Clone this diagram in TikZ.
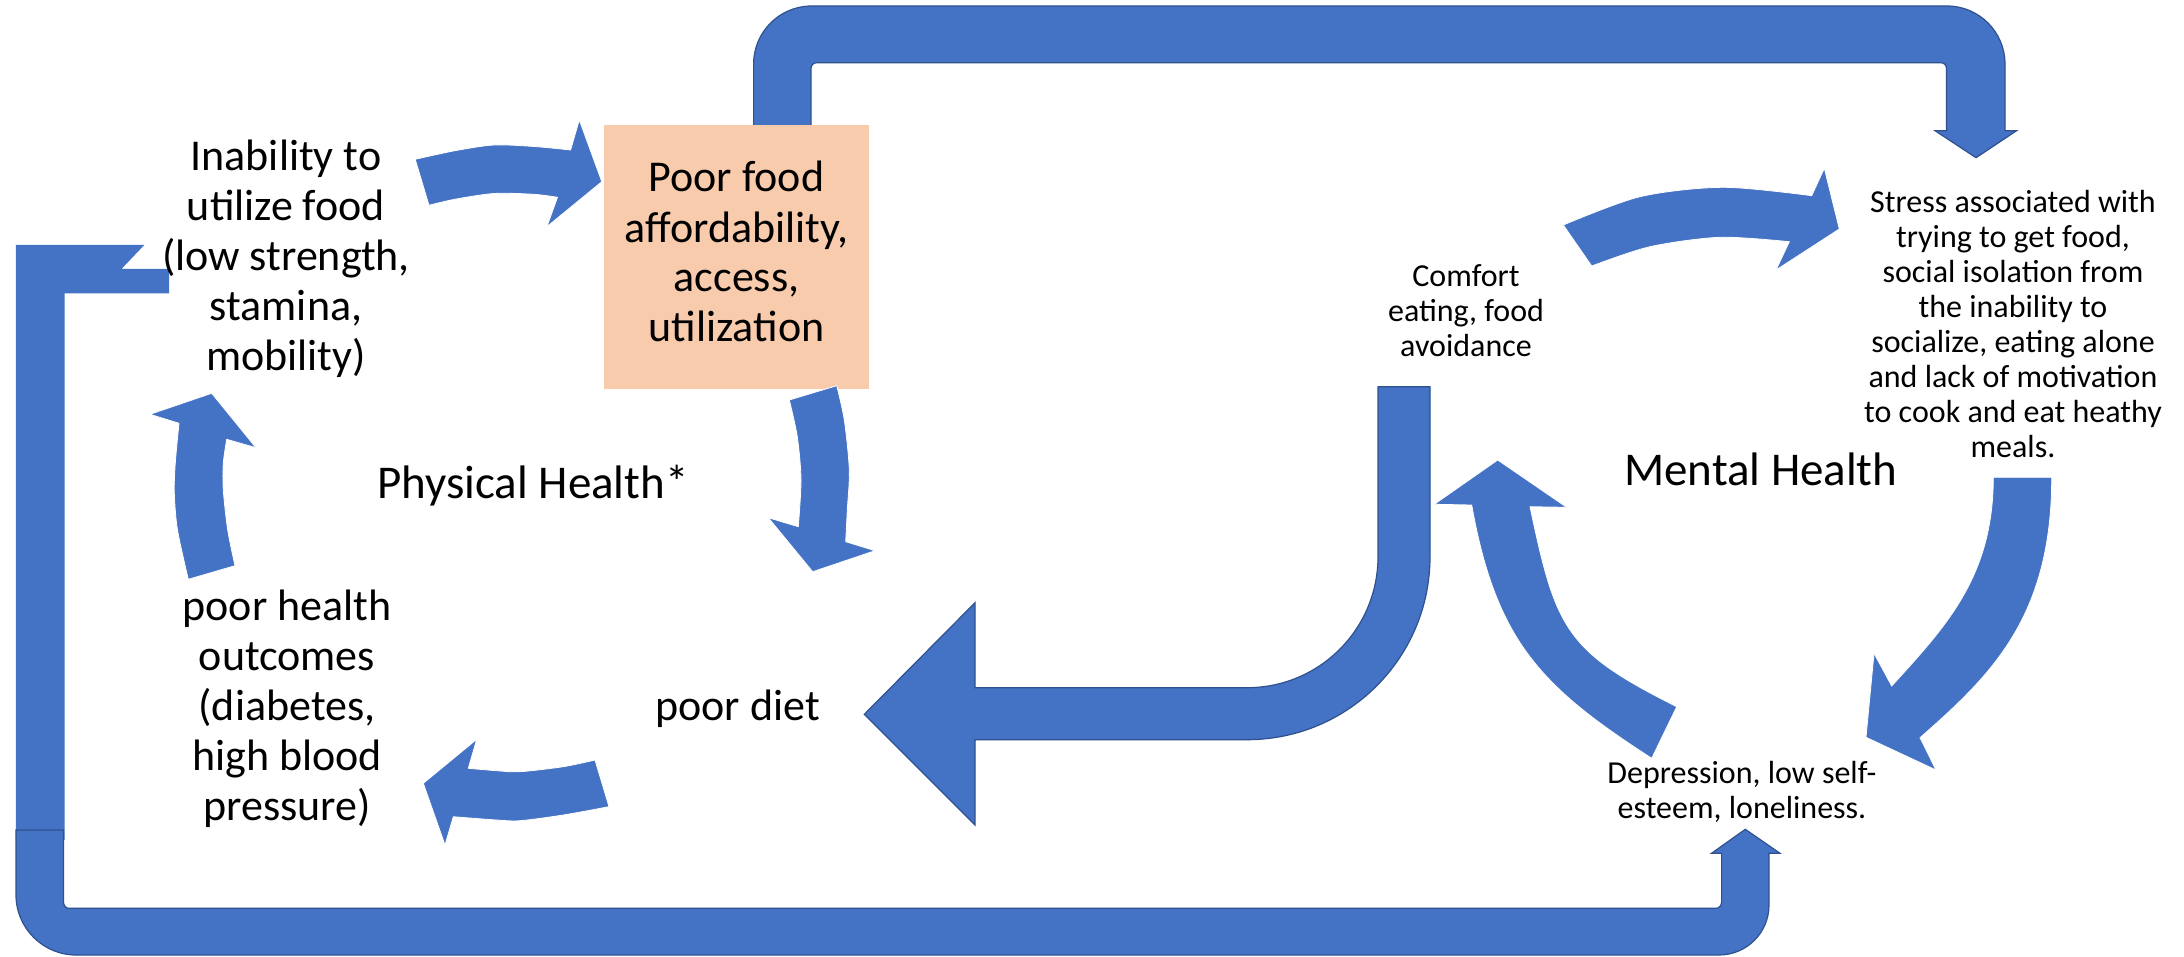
\documentclass[tikz,border=0pt]{standalone}
\usepackage{fontspec}
\setmainfont{Carlito}
\definecolor{arrowblue}{HTML}{4472C4}
\definecolor{arrowedge}{HTML}{2F528F}
\definecolor{peach}{HTML}{F8CBAD}
\newcommand\fntbig{\fontsize{44}{50}\selectfont}
\newcommand\fntlbl{\fontsize{47}{56}\selectfont}
\newcommand\fntsmall{\fontsize{32}{35}\selectfont}
\tikzset{
  blockarrow/.style={fill=arrowblue, draw=arrowedge, line width=1.2pt, line join=miter},
  curvearrow/.style={fill=arrowblue, draw=white, line width=0.8pt, line join=miter},
  plainbar/.style={fill=arrowblue},
  txt/.style={inner sep=0pt, align=center, text=black},
  peachbox/.style={fill=peach, draw=none, inner sep=0pt, align=center, minimum width=265pt, minimum height=264pt}
}
\begin{document}
\begin{tikzpicture}[x=1pt,y=-1pt]
\useasboundingbox (0,0) rectangle (2184,957);
\fill[white] (0,0) rectangle (2184,957);

% top frame arrow (box -> stress)
\path[blockarrow] (753.6,300) -- (753.6,64) .. controls (753.6,32) and (779.6,6) .. (811.6,6)
  -- (1947,6) .. controls (1979,6) and (2005,32) .. (2005,64)
  -- (2005,130.7) -- (2016.5,130.7) -- (1976,157.7) -- (1935,130.7) -- (1946.5,130.7)
  -- (1946.5,68.7) .. controls (1946.5,65) and (1944,62.7) .. (1940.5,62.7)
  -- (817,62.7) .. controls (813.5,62.7) and (811,65) .. (811,68.7) -- (811,300) -- cycle;

% box
\node[peachbox, font=\fntbig] (box) at (736.5,257) {\strut Poor food\\affordability,\\access,\\utilization\strut};

% left bar of bottom frame
\path[plainbar] (15.8,245) -- (144.3,245) -- (121.4,269) -- (169.2,269) -- (169.2,293.3)
  -- (64.5,293.3) -- (64.5,840) -- (15.8,840) -- cycle;

% bottom frame arrow (-> depression)
\path[blockarrow] (16,830) -- (16,895) .. controls (16,928) and (43,955) .. (76,955)
  -- (1719,955) .. controls (1746.6,955) and (1769,932.6) .. (1769,905)
  -- (1769,853.3) -- (1780,853.3) -- (1745.3,829.3) -- (1711.5,853.3) -- (1721.6,853.3)
  -- (1721.6,902) .. controls (1721.6,905.5) and (1719,908.3) .. (1715.6,908.3)
  -- (69,908.3) .. controls (66,908.3) and (63.5,905.5) .. (63.5,902) -- (63.5,830) -- cycle;

% comfort -> poor diet bent arrow
\path[blockarrow] (1377.7,386.7) -- (1430,386.7) -- (1430,556.7)
  .. controls (1430,657.8) and (1348.1,739.7) .. (1247,739.7)
  -- (975,739.7) -- (975,825) -- (864.3,714.3) -- (975,602.7) -- (975,687.7) -- (1247,687.7)
  .. controls (1319.4,687.7) and (1378,629.1) .. (1378,556.7) -- (1378,386.7) -- cycle;

% A: inability -> box
\path[curvearrow] plot[smooth] coordinates {(415.2,159.3) (455,150.7) (494,145) (534,146.5) (570.6,150)}
  -- (579.3,120) -- (601.8,181.7) -- (546.9,226.7)
  -- plot[smooth] coordinates {(557.5,197.3) (533.8,194.3) (494,193.5) (454.7,199.3) (429,205.3)} -- cycle;

% B: box -> poor diet
\path[curvearrow] (789.3,400) -- plot[smooth] coordinates {(836.7,385.7) (844.3,420) (849.3,470) (847.3,510) (845.7,541.7)}
  -- (875,550.7) -- (812.7,571.7) -- (768.3,517.7)
  -- plot[smooth] coordinates {(798.3,526.7) (801,480) (797.3,436.7) (789.3,400)} -- cycle;

% C: poor diet -> poor health
\path[curvearrow] plot[smooth] coordinates {(595,760) (563.3,766.7) (520,771.7) (496.7,770.7) (468.3,768.3)}
  -- (476.7,739.3) -- (423.3,783.3) -- (445,845)
  -- plot[smooth] coordinates {(453.3,816.7) (496.7,820) (520,820.7) (563.3,815) (609,806.7)} -- cycle;

% D: poor health -> inability
\path[curvearrow] (188.3,579.3) -- plot[smooth] coordinates {(235,565.7) (227.7,530) (223.3,490) (223.3,463.3) (226.7,439.3)}
  -- (256,447.7) -- (211.7,393.3) -- (150,414.3)
  -- plot[smooth] coordinates {(179,423.3) (175.3,463) (174.3,493) (177.5,530) (188.3,579.3)} -- cycle;

% E: comfort -> stress
\path[curvearrow] plot[smooth] coordinates {(1563.3,225) (1640,196.7) (1723.3,187.3) (1811.7,195.7)}
  -- (1824.3,168.3) -- (1839.3,229) -- (1776,270)
  -- plot[smooth] coordinates {(1789.3,241.7) (1720,237.3) (1650,246.7) (1591.7,266)} -- cycle;

% F: stress -> depression
\path[curvearrow] (1993.3,477.3) -- (2051.7,477.3)
  .. controls (2051.7,617.3) and (1991.3,675) .. (1920,737.7)
  -- (1936,770) -- (1866,737.3) -- (1874,653.3) -- (1891.7,686)
  .. controls (1945.3,626.8) and (1993.3,577.3) .. (1993.3,477.3) -- cycle;

% G: depression -> comfort
\path[curvearrow] (1651.7,758.3) .. controls (1542.5,687.6) and (1496.3,642.8) .. (1471.7,505)
  -- (1434.3,504.3) -- (1497.7,460) -- (1566.7,507.3) -- (1530,506.7)
  .. controls (1555.8,629) and (1565,650.8) .. (1676.7,706.7) -- cycle;

% texts
\node[txt, font=\fntbig, anchor=north] (inability) at (286,135) {\strut Inability to\\utilize food\\(low strength,\\stamina,\\mobility)};
\node[txt, font=\fntbig, anchor=north] (health) at (287,585) {\strut poor health\\outcomes\\(diabetes,\\high blood\\pressure)};
\node[txt, font=\fntbig, anchor=base] (diet) at (737.7,720) {poor diet};
\node[txt, font=\fntlbl, anchor=base] (physical) at (533,498.3) {Physical Health*};
\node[txt, font=\fntlbl, anchor=base] (mental) at (1760.8,485.7) {Mental Health};
\node[txt, font=\fntsmall, anchor=north] (comfort) at (1466,262.2) {\strut Comfort\\eating, food\\avoidance};
\node[txt, font=\fntsmall, anchor=north] (stress) at (2013,188.2) {\strut Stress associated with\\trying to get food,\\social isolation from\\the inability to\\socialize, eating alone\\and lack of motivation\\to cook and eat heathy\\meals.};
\node[txt, font=\fntsmall, anchor=north] (depression) at (1742,758.8) {\strut Depression, low self-\\esteem, loneliness.};
\end{tikzpicture}
\end{document}
